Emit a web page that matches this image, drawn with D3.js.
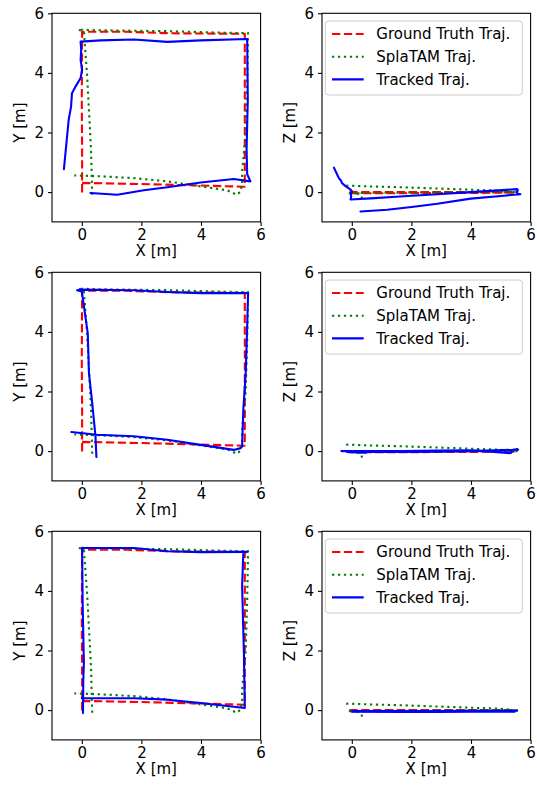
<!DOCTYPE html>
<html>
<head>
<meta charset="utf-8">
<script src="https://cdn.jsdelivr.net/npm/d3@7"></script>
<style>
  body { margin: 0; background: #fff; }
  svg { display: block; }
  text { font-family: "DejaVu Sans", sans-serif; fill: #000; }
</style>
</head>
<body>
<svg id="fig" width="537" height="785"></svg>
<script>
// trajectories as [x, y, z] in metres
const gtTraj = [
  [0.01, -0.01, -0.02], [0.01, 1.5, -0.02], [0.0, 3.0, -0.03], [0.01, 5.38, -0.04],
  [1.5, 5.38, -0.04], [3.0, 5.33, -0.03], [5.47, 5.31, -0.02], [5.47, 3.0, -0.01],
  [5.47, 0.18, 0.0], [4.0, 0.22, 0.0], [2.0, 0.27, 0.0], [-0.1, 0.31, 0.0]
];
const splatamTraj = [
  [0.35, -0.09, -0.22], [0.31, 1.4, -0.12], [0.27, 2.2, -0.08], [0.18, 3.88, -0.05],
  [0.07, 5.39, -0.04], [-0.13, 5.45, -0.04], [0.63, 5.43, -0.02], [2.87, 5.4, -0.01],
  [5.1, 5.34, 0.0], [5.58, 5.34, 0.0], [5.55, 3.66, 0.0], [5.5, 1.98, 0.0],
  [5.38, 0.69, 0.0], [5.38, 0.3, 0.0], [5.33, 0.02, 0.01], [5.2, -0.09, 0.03],
  [4.88, 0.06, 0.05], [3.99, 0.19, 0.08], [2.87, 0.36, 0.12], [1.75, 0.47, 0.16],
  [0.63, 0.53, 0.19], [-0.25, 0.56, 0.22]
];
const tracked1 = [
  [-0.6, 0.77, 0.82], [-0.44, 2.43, 0.48], [-0.36, 2.87, 0.38], [-0.33, 3.32, 0.3],
  [-0.21, 3.54, 0.2], [-0.04, 3.83, 0.08], [0.01, 4.1, 0.02], [-0.04, 4.44, -0.05],
  [-0.02, 4.77, -0.15], [-0.04, 5.05, -0.25], [0.63, 5.09, -0.21], [1.75, 5.12, -0.14],
  [2.87, 5.04, -0.07], [3.99, 5.09, 0.0], [5.55, 5.14, 0.1], [5.57, 3.1, 0.06],
  [5.53, 1.42, 0.0], [5.55, 0.6, -0.05], [5.66, 0.36, -0.07], [5.1, 0.44, -0.12],
  [3.99, 0.32, -0.22], [2.87, 0.16, -0.39], [2.08, 0.06, -0.49], [1.19, -0.09, -0.59],
  [0.29, -0.03, -0.65]
];
const tracked2 = [
  [0.49, -0.2, -0.05], [0.46, 0.49, -0.05], [0.35, 1.61, -0.05], [0.24, 2.62, -0.05],
  [0.2, 3.96, -0.04], [0.0, 5.36, -0.04], [-0.16, 5.4, -0.03], [-0.04, 5.42, -0.03],
  [1.75, 5.4, -0.03], [2.87, 5.34, -0.02], [3.99, 5.3, 0.0], [5.58, 5.3, 0.05],
  [5.55, 4.19, 0.07], [5.5, 2.6, 0.06], [5.42, 1.39, 0.05], [5.38, 0.16, 0.0],
  [5.33, 0.1, -0.07], [5.1, 0.04, -0.05], [3.99, 0.21, 0.03], [2.87, 0.38, 0.02],
  [1.75, 0.5, 0.0], [0.5, 0.55, 0.0], [-0.35, 0.64, 0.0]
];
const tracked3 = [
  [0.04, -0.1, -0.03], [0.05, 1.0, -0.03], [0.07, 1.58, -0.03], [0.03, 3.5, -0.03],
  [0.01, 5.44, -0.03], [1.75, 5.44, -0.03], [2.87, 5.33, -0.03], [4.0, 5.3, -0.02],
  [5.55, 5.31, -0.02], [5.42, 5.27, -0.02], [5.38, 4.15, -0.02], [5.44, 1.91, -0.03],
  [5.47, 0.07, -0.05], [3.99, 0.24, -0.05], [2.87, 0.35, -0.06], [1.75, 0.4, -0.06],
  [0.0, 0.4, -0.05]
];
const trackedRuns = [tracked1, tracked2, tracked3];

const seriesNames = ["Ground Truth Traj.", "SplaTAM Traj.", "Tracked Traj."];
const axisDomain = [-1, 6];
const xTicks = [0, 2, 4, 6];
const yTicks = [0, 2, 4, 6];
const verticalLabels = ["Y [m]", "Z [m]"];

const styles = [
  { color: "#ff0000", dash: "8.3,3.6", cap: "butt" },
  { color: "#008000", dash: "2.25,3.7", cap: "butt" },
  { color: "#0000ff", dash: null, cap: "round" }
];

const colLeft = [52, 322];
const rowTop = [13.3, 272.3, 531.3];
const size = 208.6;
const fontSize = 15;

const svg = d3.select("#fig");
const defs = svg.append("defs");

rowTop.forEach((top, r) => {
  colLeft.forEach((left, c) => {
    const x = d3.scaleLinear().domain(axisDomain).range([left, left + size]);
    const y = d3.scaleLinear().domain(axisDomain).range([top + size, top]);
    const vIdx = c === 0 ? 1 : 2;
    const g = svg.append("g");

    const clipId = `clip-${r}-${c}`;
    defs.append("clipPath").attr("id", clipId)
      .append("rect").attr("x", left).attr("y", top).attr("width", size).attr("height", size);

    const line = d3.line().x(d => x(d[0])).y(d => y(d[vIdx]));
    const lines = g.append("g").attr("clip-path", `url(#${clipId})`);
    [gtTraj, splatamTraj, trackedRuns[r]].forEach((traj, i) => {
      lines.append("path")
        .attr("d", line(traj))
        .attr("fill", "none")
        .attr("stroke", styles[i].color)
        .attr("stroke-width", 2.1)
        .attr("stroke-dasharray", styles[i].dash)
        .attr("stroke-linecap", styles[i].cap)
        .attr("stroke-linejoin", "round");
    });

    // axes
    const xAxis = g.append("g").attr("transform", `translate(0,${top + size})`)
      .call(d3.axisBottom(x).tickValues(xTicks).tickFormat(d3.format("d")).tickSizeOuter(0).tickSize(4).tickPadding(3));
    const yAxis = g.append("g").attr("transform", `translate(${left},0)`)
      .call(d3.axisLeft(y).tickValues(yTicks).tickFormat(d3.format("d")).tickSizeOuter(0).tickSize(4).tickPadding(4));
    [xAxis, yAxis].forEach(a => {
      a.select(".domain").remove();
      a.selectAll(".tick line").attr("stroke", "#000").attr("stroke-width", 1.1);
      a.selectAll("text").attr("font-size", fontSize).attr("font-family", "DejaVu Sans");
    });

    g.append("rect")
      .attr("x", left).attr("y", top).attr("width", size).attr("height", size)
      .attr("fill", "none").attr("stroke", "#000").attr("stroke-width", 1.1);

    g.append("text")
      .attr("x", left + size / 2).attr("y", top + size + 34)
      .attr("text-anchor", "middle").attr("font-size", fontSize)
      .text("X [m]");
    g.append("text")
      .attr("transform", `translate(${left - 27},${top + size / 2 + 5}) rotate(-90)`)
      .attr("text-anchor", "middle").attr("font-size", fontSize)
      .text(verticalLabels[c]);

    if (c === 1) {
      const lg = g.append("g").attr("transform", `translate(${left + 3.3},${top + 7.7})`);
      lg.append("rect")
        .attr("width", 197).attr("height", 74).attr("rx", 3)
        .attr("fill", "#fff").attr("fill-opacity", 0.8)
        .attr("stroke", "#cccccc").attr("stroke-width", 1);
      seriesNames.forEach((name, i) => {
        const cy = 13 + i * 22.7;
        lg.append("line")
          .attr("x1", 6.7).attr("x2", 38.4).attr("y1", cy).attr("y2", cy)
          .attr("stroke", styles[i].color).attr("stroke-width", 2.1)
          .attr("stroke-dasharray", styles[i].dash);
        lg.append("text")
          .attr("x", 51).attr("y", cy + 5.3)
          .attr("font-size", fontSize)
          .text(name);
      });
    }
  });
});
</script>
</body>
</html>
